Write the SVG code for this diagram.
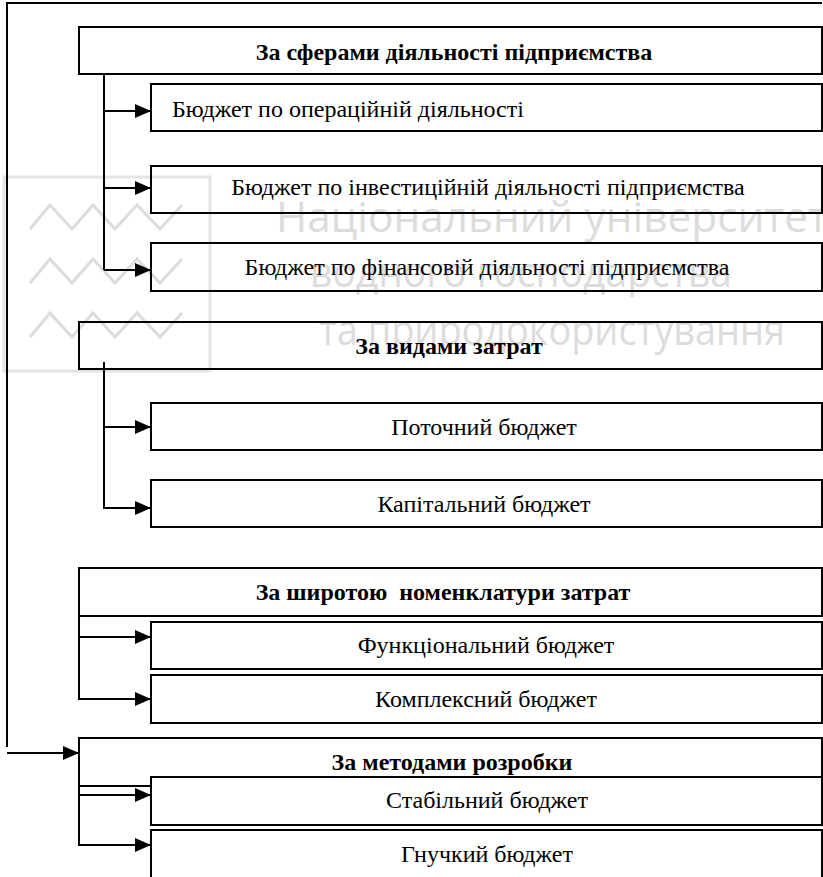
<svg xmlns="http://www.w3.org/2000/svg" width="823" height="877" viewBox="0 0 823 877">
<style>
.box{fill:none;stroke:#000;stroke-width:2}
.wbox{fill:#fff;stroke:#000;stroke-width:2}
.ln{fill:none;stroke:#000;stroke-width:2}
.h{font-family:"Liberation Serif","Times New Roman",serif;font-weight:bold;font-size:24px;text-anchor:middle;fill:#000}
.t{font-family:"Liberation Serif","Times New Roman",serif;font-size:24px;text-anchor:middle;fill:#000}
.wm{font-family:"Open Sans","DejaVu Sans",sans-serif;font-size:42px;fill:#dcdcdc}
.wz{fill:none;stroke:#dcdcdc;stroke-width:3}
</style>
<defs>
<marker id="arr" markerWidth="16" markerHeight="14" refX="16" refY="7" orient="auto" markerUnits="userSpaceOnUse">
<path d="M0,0 L16,7 L0,14 z" fill="#000"/>
</marker>
</defs>
<rect width="823" height="877" fill="#fff"/>
<g id="watermark">
<rect x="4" y="177" width="206" height="194" fill="none" stroke="#e4e4e4" stroke-width="3"/>
<polyline class="wz" points="30,229 50,205 72,229 93,205 115,229 137,205 160,229 182,205"/>
<polyline class="wz" points="30,283 50,259 72,283 93,259 115,283 137,259 160,283 182,259"/>
<polyline class="wz" points="30,337 50,313 72,337 93,313 115,337 137,313 160,337 182,313"/>
<text class="wm" x="276" y="232" textLength="552" lengthAdjust="spacingAndGlyphs">Національний університет</text>
<text class="wm" x="310" y="287" textLength="422" lengthAdjust="spacingAndGlyphs">водного господарства</text>
<text class="wm" x="319" y="345" textLength="466" lengthAdjust="spacingAndGlyphs">та природокористування</text>
</g>
<g id="connectors">
<path class="ln" d="M822,3 H7 V747"/>
<line class="ln" x1="7" y1="753" x2="79" y2="753" marker-end="url(#arr)"/>
<line class="ln" x1="104" y1="74" x2="104" y2="270"/>
<line class="ln" x1="104" y1="111" x2="151" y2="111" marker-end="url(#arr)"/>
<line class="ln" x1="104" y1="188" x2="151" y2="188" marker-end="url(#arr)"/>
<line class="ln" x1="104" y1="270" x2="151" y2="270" marker-end="url(#arr)"/>
<line class="ln" x1="104" y1="362" x2="104" y2="508"/>
<line class="ln" x1="104" y1="427" x2="151" y2="427" marker-end="url(#arr)"/>
<line class="ln" x1="103" y1="508" x2="151" y2="508" marker-end="url(#arr)"/>
<line class="ln" x1="79" y1="578" x2="79" y2="699"/>
<line class="ln" x1="79" y1="637" x2="151" y2="637" marker-end="url(#arr)"/>
<line class="ln" x1="78" y1="699" x2="151" y2="699" marker-end="url(#arr)"/>
<line class="ln" x1="79" y1="786" x2="79" y2="845"/>
<line class="ln" x1="79" y1="795" x2="151" y2="795" marker-end="url(#arr)"/>
<line class="ln" x1="78" y1="845" x2="151" y2="845" marker-end="url(#arr)"/>
</g>
<g id="h1"><rect class="box" x="79" y="27" width="743" height="47"/><text class="h" x="454" y="60">За сферами діяльності підприємства</text></g>
<g id="c11"><rect class="box" x="151" y="84" width="671" height="47"/><text class="t" x="172" y="117" style="text-anchor:start">Бюджет по операційній діяльності</text></g>
<g id="c12"><rect class="box" x="151" y="166" width="671" height="47"/><text class="t" x="488" y="195">Бюджет по інвестиційній діяльності підприємства</text></g>
<g id="c13"><rect class="box" x="151" y="243" width="671" height="48"/><text class="t" x="487" y="275">Бюджет по фінансовій діяльності підприємства</text></g>
<g id="h2"><rect class="box" x="79" y="322" width="743" height="47"/><text class="h" x="449" y="354">За видами затрат</text></g>
<g id="c21"><rect class="box" x="151" y="403" width="671" height="47"/><text class="t" x="484" y="435">Поточний бюджет</text></g>
<g id="c22"><rect class="box" x="151" y="480" width="671" height="47"/><text class="t" x="484" y="512">Капітальний бюджет</text></g>
<g id="h3"><rect class="box" x="79" y="568" width="743" height="48"/><text class="h" x="443" y="600" xml:space="preserve">За широтою  номенклатури затрат</text></g>
<g id="c31"><rect class="box" x="151" y="622" width="671" height="47"/><text class="t" x="486" y="653">Функціональний бюджет</text></g>
<g id="c32"><rect class="box" x="151" y="675" width="671" height="48"/><text class="t" x="486" y="707">Комплексний бюджет</text></g>
<g id="h4"><rect class="box" x="79" y="738" width="743" height="48"/><text class="h" x="452" y="770">За методами розробки</text></g>
<g id="c41"><rect class="wbox" x="151" y="777" width="671" height="48"/><text class="t" x="487" y="808">Стабільний бюджет</text></g>
<g id="c42"><rect class="wbox" x="151" y="830" width="671" height="60"/><text class="t" x="487" y="862">Гнучкий бюджет</text></g>
</svg>
